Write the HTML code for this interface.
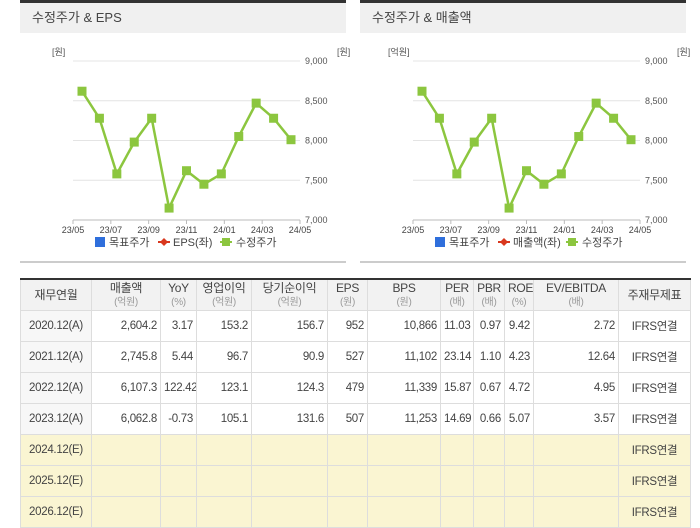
<!DOCTYPE html>
<html><head><meta charset="utf-8">
<style>
body{margin:0;width:700px;height:520px;background:#fff;font-family:"Liberation Sans","Noto Sans CJK KR",sans-serif;overflow:hidden;position:relative}
.panel{position:absolute;top:0;width:326px;height:258px;border-top:3px solid #333;border-bottom:2px solid #ccc;background:#fff}
.ph{height:30px;background:#f0f0f0;font-size:13px;color:#444;line-height:30px;padding-left:12px}
svg{overflow:visible}
svg text{font-family:"Liberation Sans","Noto Sans CJK KR",sans-serif}
table{position:absolute;left:20px;top:278px;border-collapse:collapse;table-layout:fixed;width:670px;font-size:11.5px;color:#444;border-top:2px solid #333;letter-spacing:-0.3px}
td,th{border:1px solid #ddd;height:30px;padding:0 3px;white-space:nowrap;overflow:hidden}
th{background:#f2f2f2;font-weight:normal;font-size:12px;line-height:13px}
th small{color:#999;font-size:10px}
td{text-align:right}
td:first-child{text-align:center;background:#f7f7f7}
td:last-child{text-align:center}
tr.e td{background:#faf5d2}
</style></head><body>
<div class="panel" style="left:20px"><div class="ph">수정주가 &amp; EPS</div><svg id="c1" width="326" height="225"></svg></div>
<div class="panel" style="left:360px"><div class="ph">수정주가 &amp; 매출액</div><svg id="c2" width="330" height="225"></svg></div>

<table>
<colgroup><col style="width:71px"><col style="width:69px"><col style="width:36px"><col style="width:55px"><col style="width:76px"><col style="width:40px"><col style="width:73px"><col style="width:33px"><col style="width:31px"><col style="width:29px"><col style="width:85px"><col style="width:72px"></colgroup>
<tr>
<th>재무연월</th><th>매출액<br><small>(억원)</small></th><th>YoY<br><small>(%)</small></th><th>영업이익<br><small>(억원)</small></th><th>당기순이익<br><small>(억원)</small></th><th>EPS<br><small>(원)</small></th><th>BPS<br><small>(원)</small></th><th>PER<br><small>(배)</small></th><th>PBR<br><small>(배)</small></th><th>ROE<br><small>(%)</small></th><th>EV/EBITDA<br><small>(배)</small></th><th>주재무제표</th></tr>
<tr><td>2020.12(A)</td><td>2,604.2</td><td>3.17</td><td>153.2</td><td>156.7</td><td>952</td><td>10,866</td><td>11.03</td><td>0.97</td><td>9.42</td><td>2.72</td><td>IFRS연결</td></tr>
<tr><td>2021.12(A)</td><td>2,745.8</td><td>5.44</td><td>96.7</td><td>90.9</td><td>527</td><td>11,102</td><td>23.14</td><td>1.10</td><td>4.23</td><td>12.64</td><td>IFRS연결</td></tr>
<tr><td>2022.12(A)</td><td>6,107.3</td><td>122.42</td><td>123.1</td><td>124.3</td><td>479</td><td>11,339</td><td>15.87</td><td>0.67</td><td>4.72</td><td>4.95</td><td>IFRS연결</td></tr>
<tr><td>2023.12(A)</td><td>6,062.8</td><td>-0.73</td><td>105.1</td><td>131.6</td><td>507</td><td>11,253</td><td>14.69</td><td>0.66</td><td>5.07</td><td>3.57</td><td>IFRS연결</td></tr>
<tr class="e"><td>2024.12(E)</td><td></td><td></td><td></td><td></td><td></td><td></td><td></td><td></td><td></td><td></td><td>IFRS연결</td></tr>
<tr class="e"><td>2025.12(E)</td><td></td><td></td><td></td><td></td><td></td><td></td><td></td><td></td><td></td><td></td><td>IFRS연결</td></tr>
<tr class="e"><td>2026.12(E)</td><td></td><td></td><td></td><td></td><td></td><td></td><td></td><td></td><td></td><td></td><td>IFRS연결</td></tr>
</table>

<script>
const months=["23/05","23/06","23/07","23/08","23/09","23/10","23/11","23/12","24/01","24/02","24/03","24/04","24/05"];
const prices=[8620,8280,7580,7980,8280,7150,7620,7450,7580,8050,8470,8280,8010];
const yTicks=[7000,7500,8000,8500,9000];
const xTickLabels=["23/05","23/07","23/09","23/11","24/01","24/03","24/05"];
const NS="http://www.w3.org/2000/svg";
function mk(svg,tag,attrs,txt){const e=document.createElementNS(NS,tag);for(const k in attrs)e.setAttribute(k,attrs[k]);if(txt!=null)e.textContent=txt;svg.appendChild(e);return e;}
function draw(id,unitL,legend2,ux){
  const svg=document.getElementById(id);
  const x0=53,x1=280,top=28,bot=187;
  const xs=i=>62+i*(271-62)/(months.length-1);
  const ys=v=>bot-(v-7000)/2000*(bot-top);
  let t=mk(svg,'text',{x:ux,y:22,'font-size':9,fill:'#555'},unitL);
  
  t=mk(svg,'text',{x:317,y:22,'font-size':9,fill:'#555'},'[원]');
  
  yTicks.forEach(v=>{
    const g=mk(svg,'line',{x1:x0,x2:x1,y1:ys(v),y2:ys(v),stroke:v===7000?'#bbb':'#e4e4e4','stroke-width':1});
    
    const l=mk(svg,'text',{x:285,y:ys(v)+3,'font-size':9,fill:'#555'},v.toLocaleString('en-US'));
    
  });
  xTickLabels.forEach(lb=>{
    const i=months.indexOf(lb);const X=x0+(x1-x0)*i/12;
    const tk=mk(svg,'line',{x1:X,x2:X,y1:bot,y2:bot+4,stroke:'#bbb'});
    
    const l=mk(svg,'text',{x:X,y:bot+13,'font-size':9,fill:'#444','text-anchor':'middle'},lb);
    
  });
  const pts=prices.map((v,i)=>xs(i)+','+ys(v)).join(' ');
  const pl=mk(svg,'polyline',{points:pts,fill:'none',stroke:'#8cc63f','stroke-width':2.5});
  
  prices.forEach((v,i)=>{
    const r=mk(svg,'rect',{x:xs(i)-4.5,y:ys(v)-4.5,width:9,height:9,fill:'#8cc63f'});
    
  });
  const ly=209;
  let e=mk(svg,'rect',{x:75,y:ly-5,width:10,height:10,fill:'#2f6fdc'});
  
  e=mk(svg,'text',{x:89,y:ly+4,'font-size':11,fill:'#444'},'목표주가');
  
  e=mk(svg,'line',{x1:138,x2:150,y1:ly,y2:ly,stroke:'#d9381e','stroke-width':2});
  
  e=mk(svg,'polygon',{points:`144,${ly-4} 148,${ly} 144,${ly+4} 140,${ly}`,fill:'#d9381e'});
  
  e=mk(svg,'text',{x:153,y:ly+4,'font-size':11,fill:'#444'},legend2);
  
  const lx=legend2==='EPS(좌)'?200:206;
  e=mk(svg,'line',{x1:lx,x2:lx+12,y1:ly,y2:ly,stroke:'#8cc63f','stroke-width':2});
  
  e=mk(svg,'rect',{x:lx+2,y:ly-4,width:8,height:8,fill:'#8cc63f'});
  
  e=mk(svg,'text',{x:lx+16,y:ly+4,'font-size':11,fill:'#444'},'수정주가');
  
}
draw('c1','[원]','EPS(좌)',32);
draw('c2','[억원]','매출액(좌)',28);
</script>
</body></html>
